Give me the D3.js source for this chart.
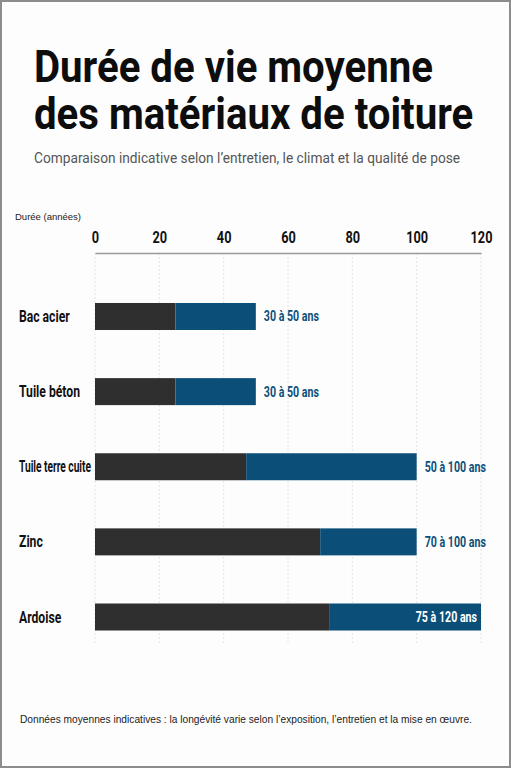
<!DOCTYPE html>
<html>
<head>
<meta charset="utf-8">
<script src="https://cdn.jsdelivr.net/npm/d3@7"></script>
<style>
  html, body { margin: 0; padding: 0; background: #fdfdfd; }
  svg { display: block; }
</style>
</head>
<body>
<div id="chart"></div>
<script>
// materials, in display order
var materials = ["Bac acier", "Tuile béton", "Tuile terre cuite", "Zinc", "Ardoise"];
// low end of the life span (dark part) and high end (blue part), in years
var lowYears = [25, 25, 47, 70, 73];
var highYears = [50, 50, 100, 100, 120];
var rangeLabels = ["30 à 50 ans", "30 à 50 ans", "50 à 100 ans", "70 à 100 ans", "75 à 120 ans"];
var xTicks = [0, 20, 40, 60, 80, 100, 120];
var titleLines = ["Durée de vie moyenne", "des matériaux de toiture"];

var W = 511, H = 768;
var cond = "Roboto, 'Liberation Sans', sans-serif";
var sans = "'Liberation Sans', Arial, sans-serif";

var rows = materials.map(function(m, i) {
    return {name: m, low: lowYears[i], high: highYears[i], label: rangeLabels[i]};
});

// no condensed font installed: squeeze text horizontally around its anchor point
function condense(sel, sx) {
    sel.each(function() {
        var t = d3.select(this);
        var tx = +t.attr("x") || 0, ty = +t.attr("y") || 0;
        t.attr("x", 0).attr("y", 0)
         .attr("transform", "translate(" + tx + "," + ty + ") scale(" + sx + ",1)");
    });
}

var svg = d3.select("#chart").append("svg")
    .attr("width", W)
    .attr("height", H);

svg.append("rect")
    .attr("x", 1).attr("y", 1)
    .attr("width", W - 2).attr("height", H - 2)
    .attr("fill", "#fdfdfd")
    .attr("stroke", "#8c8c8c")
    .attr("stroke-width", 2);

// title block
svg.selectAll(".title")
    .data(titleLines)
    .enter()
    .append("text")
        .attr("class", "title")
        .attr("x", 34)
        .attr("y", function(d, i) { return 82 + i * 47; })
        .attr("font-family", cond)
        .attr("font-weight", "bold")
        .attr("font-size", 45)
        .attr("fill", "#0d0d0d")
        .text(function(d) { return d; })
        .call(condense, 0.893);

svg.append("text")
    .attr("x", 34).attr("y", 163)
    .attr("font-family", cond)
    .attr("font-size", 15)
    .attr("fill", "#555")
    .text("Comparaison indicative selon l’entretien, le climat et la qualité de pose")
    .call(condense, 0.915);

svg.append("text")
    .attr("x", 15).attr("y", 220)
    .attr("font-family", sans)
    .attr("font-size", 9.5)
    .attr("fill", "#222")
    .text("Durée (années)");

// scales
var x = d3.scaleLinear().domain([0, 120]).range([95, 481]);
var y = d3.scalePoint().domain(materials).range([316.5, 617]);
var barH = 27;

// dashed grid
svg.append("g")
    .selectAll("line")
    .data(xTicks)
    .enter()
    .append("line")
        .attr("x1", function(d) { return x(d); })
        .attr("x2", function(d) { return x(d); })
        .attr("y1", 253)
        .attr("y2", 645)
        .attr("stroke", "#e4e4e4")
        .attr("stroke-dasharray", "2,2");

// top axis
var axis = svg.append("g")
    .attr("transform", "translate(0,253)")
    .call(d3.axisTop(x).tickValues(xTicks).tickSize(0).tickPadding(10));
axis.select(".domain").attr("stroke", "#9a9a9a").attr("stroke-width", 1.5);
axis.selectAll(".tick text")
    .attr("font-family", cond)
    .attr("font-weight", "bold")
    .attr("font-size", 17)
    .attr("fill", "#111")
    .attr("transform", "scale(0.75,1)");

// bars
var bar = svg.append("g").selectAll("g")
    .data(rows)
    .enter()
    .append("g");

bar.append("rect")
    .attr("x", x(0))
    .attr("y", function(d) { return y(d.name) - barH / 2; })
    .attr("width", function(d) { return x(d.low) - x(0); })
    .attr("height", barH)
    .attr("fill", "#2f2f30");

bar.append("rect")
    .attr("x", function(d) { return x(d.low); })
    .attr("y", function(d) { return y(d.name) - barH / 2; })
    .attr("width", function(d) { return x(d.high) - x(d.low); })
    .attr("height", barH)
    .attr("fill", "#0b4f79");

// category labels, squeezed further if they do not fit left of the bars
var labSx = 0.76;
bar.append("text")
    .attr("x", 19)
    .attr("y", function(d) { return y(d.name); })
    .attr("dy", "0.35em")
    .attr("font-family", cond)
    .attr("font-weight", "bold")
    .attr("font-size", 16)
    .attr("fill", "#111")
    .text(function(d) { return d.name; })
    .each(function() {
        var maxW = (x(0) - 19 - 4) / labSx;
        if (this.getComputedTextLength() > maxW) {
            d3.select(this).attr("textLength", maxW).attr("lengthAdjust", "spacingAndGlyphs");
        }
    })
    .call(condense, labSx);

// range labels, inside the bar when there is no room at the right
var valSx = 0.76;
bar.append("text")
    .attr("y", function(d) { return y(d.name); })
    .attr("dy", "0.35em")
    .attr("font-family", cond)
    .attr("font-weight", "bold")
    .attr("font-size", 14)
    .text(function(d) { return d.label; })
    .each(function(d) {
        var t = d3.select(this);
        var w = this.getComputedTextLength() * valSx;
        if (x(d.high) + 8 + w > W - 8) {
            t.attr("x", x(d.high) - 4).attr("text-anchor", "end").attr("fill", "#fff");
        } else {
            t.attr("x", x(d.high) + 8).attr("fill", "#0b4f79");
        }
    })
    .call(condense, valSx);

// footnote
svg.append("text")
    .attr("x", 20).attr("y", 723)
    .attr("font-family", sans)
    .attr("font-size", 10.2)
    .attr("fill", "#222")
    .text("Données moyennes indicatives : la longévité varie selon l’exposition, l’entretien et la mise en œuvre.");
</script>
</body>
</html>
